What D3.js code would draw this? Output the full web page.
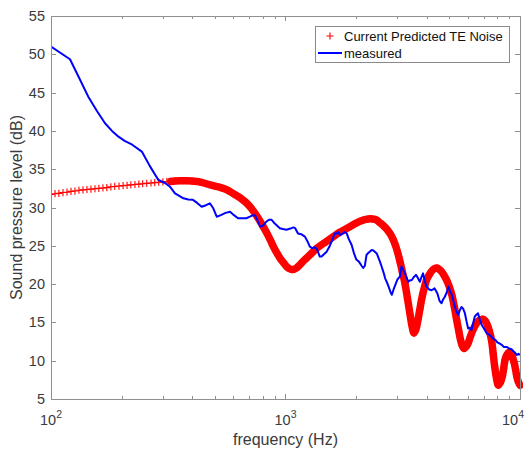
<!DOCTYPE html>
<html><head><meta charset="utf-8">
<script src="https://cdn.jsdelivr.net/npm/d3@7"></script>
<style>body{margin:0;background:#fff} svg{display:block}</style>
</head><body><svg id="c" width="529" height="450"></svg>
<script>
// ---- data ----
const predFreq = [100,104,108,112.5,117,121.7,126.5,131.6,136.9,142.3,148,154,160,166.5,173,180,187,195,203,211,219,228,237,246,256,267,277,288,300,312,324,337,351,365,380,
  400,430,460,500,530,563,600,639,670,706,735,765,800,831,860,888,917,947,980,1010,1040,1067,1100,1150,1200,1270,1350,1450,1550,1650,1760,1880,2010,2145,2250,2350,2450,2530,2600,2700,2790,2870,2940,3010,3080,3150,3230,3310,3390,3460,3530,3600,3670,3740,3800,3890,3990,4100,4200,4310,4420,4530,4640,4750,4870,4990,5120,5250,5370,5480,5580,5680,5770,5880,6010,6150,6300,6500,6720,6880,7000,7100,7200,7380,7560,7680,7800,7940,8070,8230,8400,8520,8630,8800,8950,9100,9280,9450,9580,9700,9850,10000];
const predDb = [31.7,31.8,31.85,31.95,32.0,32.1,32.15,32.25,32.3,32.35,32.4,32.45,32.5,32.55,32.6,32.7,32.75,32.8,32.85,32.9,32.95,33.0,33.05,33.1,33.15,33.2,33.25,33.3,33.35,33.4,33.4,33.45,33.5,33.5,33.5,
  33.45,33.35,33.1,32.8,32.6,32.3,31.8,31.3,30.8,30.1,29.4,28.6,27.6,26.7,25.8,24.9,24.1,23.4,22.8,22.3,22.0,21.9,22.0,22.5,23.1,23.8,24.6,25.3,25.9,26.5,27.0,27.5,28.0,28.35,28.5,28.5,28.35,28.0,27.7,27.2,26.6,25.9,25.1,24.1,22.9,21.6,20.1,18.2,16.2,14.6,13.6,14.1,15.3,16.7,17.9,19.3,20.5,21.2,21.7,22.0,22.1,21.9,21.6,21.1,20.5,19.7,18.6,17.0,15.3,13.9,12.7,11.9,11.6,11.8,12.3,13.2,14.0,14.8,15.3,15.4,15.4,15.2,14.9,14.0,12.7,11.0,9.2,7.7,6.8,7.1,7.9,9.0,10.1,10.8,11.1,11.0,10.5,9.7,8.8,7.9,7.2,6.8];
const measFreq = [100,120.5,130,144,157,170,182,194,206,222,244,264,287,306,322,338,367,385,403,420,439,458,476,492,509,530,555,580,603,627,655,681,705,727,741,760,780,800,825,850,873,900,946,975,1010,1050,1080,1100,1130,1170,1210,1240,1270,1300,1330,1360,1400,1425,1470,1495,1540,1580,1620,1650,1675,1710,1750,1790,1825,1860,1915,1960,2005,2060,2110,2145,2180,2215,2260,2330,2370,2450,2530,2570,2620,2660,2710,2750,2800,2840,2890,2940,3000,3080,3120,3170,3230,3290,3340,3400,3450,3520,3600,3670,3740,3800,3860,3920,3990,4100,4200,4320,4440,4540,4630,4700,4780,4870,4950,5030,5120,5200,5280,5360,5450,5540,5630,5720,5820,5910,6010,6110,6210,6300,6410,6510,6620,6740,6860,7020,7200,7380,7580,7730,7870,8000,8130,8330,8540,8760,8980,9200,9400,9550,9680,9850,10000];
const measDb = [51.0,49.35,47.3,44.5,42.6,41.0,40.0,39.25,38.7,38.2,37.3,35.4,33.6,33.2,32.7,31.85,31.2,31.05,31.0,30.6,30.1,30.3,30.55,29.9,28.8,29.0,29.3,29.45,29.0,28.6,28.6,28.6,28.8,29.0,29.0,28.3,27.5,27.6,28.1,28.4,28.4,27.9,27.3,27.2,27.1,27.25,27.4,27.3,26.6,26.5,26.2,25.6,24.9,24.7,24.8,24.6,23.6,23.6,24.0,24.2,24.9,25.7,26.6,26.6,26.8,26.4,26.6,26.8,26.6,25.9,25.1,24.0,23.2,22.9,22.4,22.1,22.4,23.8,24.1,24.45,24.4,24.0,22.9,22.3,21.5,20.75,20.2,19.7,19.0,18.6,19.3,19.9,20.6,21.0,22.3,21.9,21.4,20.8,20.3,20.5,20.5,20.9,21.2,20.8,20.3,20.9,21.4,20.5,19.7,19.3,19.2,19.45,18.8,17.8,17.5,18.0,18.35,18.9,19.7,19.1,18.6,17.8,17.0,16.4,15.95,16.6,17.0,16.8,16.2,15.2,14.2,14.3,14.0,14.8,15.75,16.0,16.2,15.4,14.7,14.2,13.6,13.4,13.1,12.8,12.7,12.4,12.3,12.1,11.8,11.8,11.6,11.5,11.2,11.0,10.75,10.9,10.75];
const yTicks = [5,10,15,20,25,30,35,40,45,50,55];
const xDomain = [100,10000];
const yDomain = [5,55];
const seriesNames = ["Current Predicted TE Noise","measured"];
const xLabel = "frequency (Hz)";
const yLabel = "Sound pressure level (dB)";

// ---- layout ----
const L=51, R=520, T=16, B=399;
const svg = d3.select("#c");
svg.append("rect").attr("width",529).attr("height",450).attr("fill","#fff");
const x = d3.scaleLog().domain(xDomain).range([L,R]);
const y = d3.scaleLinear().domain(yDomain).range([B,T]);
const axisCol="#8f8f8f", textCol="#3a3a3a", font="'Liberation Sans', Arial, sans-serif";

svg.append("clipPath").attr("id","clip").append("rect").attr("x",L).attr("y",T-2).attr("width",R-L+3).attr("height",B-T+4);

// ticks
const isMajor = v=>Math.abs(Math.log10(v)-Math.round(Math.log10(v)))<1e-9;
const tg = svg.append("g").attr("stroke",axisCol).attr("stroke-width",1);
x.ticks().forEach(v=>{
  const len = isMajor(v)?5:3, xx=Math.round(x(v))+0.5;
  tg.append("line").attr("x1",xx).attr("x2",xx).attr("y1",B).attr("y2",B-len);
  tg.append("line").attr("x1",xx).attr("x2",xx).attr("y1",T).attr("y2",T+len);
});
yTicks.forEach(v=>{
  const yy=Math.round(y(v))+0.5;
  tg.append("line").attr("x1",L).attr("x2",L+5).attr("y1",yy).attr("y2",yy);
  tg.append("line").attr("x1",R).attr("x2",R-5).attr("y1",yy).attr("y2",yy);
});

// series
const pred = predFreq.map((f,i)=>({f,v:predDb[i]}));
const meas = measFreq.map((f,i)=>({f,v:measDb[i]}));
const sg = svg.append("g").attr("clip-path","url(#clip)");
const band = pred.filter(d=>d.f>=320);
sg.append("path").datum(band)
  .attr("d",d3.line().x(d=>x(d.f)).y(d=>y(d.v)).curve(d3.curveCatmullRom))
  .attr("fill","none").attr("stroke","#ff0000").attr("stroke-width",7.5).attr("stroke-linejoin","round").attr("stroke-linecap","round");
const plus = s=>`M${-s},0H${s}M0,${-s}V${s}`;
sg.selectAll("path.m").data(pred).enter().append("path").attr("class","m")
  .attr("transform",d=>`translate(${x(d.f)},${y(d.v)})`)
  .attr("d",plus(3.6)).attr("stroke","#ff0000").attr("stroke-width",1.1).attr("fill","none");
sg.append("path").datum(meas)
  .attr("d",d3.line().x(d=>x(d.f)).y(d=>y(d.v)))
  .attr("fill","none").attr("stroke","#0000ff").attr("stroke-width",2).attr("stroke-linejoin","round");

// box
svg.append("rect").attr("x",L+0.5).attr("y",T+0.5).attr("width",R-L).attr("height",B-T)
  .attr("fill","none").attr("stroke",axisCol).attr("stroke-width",1);

// tick labels
yTicks.forEach(v=>{
  svg.append("text").attr("x",45).attr("y",y(v)+5).attr("text-anchor","end")
    .attr("font-family",font).attr("font-size",14.5).attr("fill",textCol).text(v);
});
x.ticks().filter(isMajor).forEach(v=>{
  const t = svg.append("text").attr("x",x(v)).attr("y",424.5).attr("text-anchor","middle")
    .attr("font-family",font).attr("font-size",14.5).attr("fill",textCol);
  t.append("tspan").text("10");
  t.append("tspan").attr("dy",-7).attr("font-size",10.5).text(String(Math.round(Math.log10(v))));
  const bb = t.node().getBBox();
  if (bb.x + bb.width > 524) t.attr("text-anchor","end").attr("x",524);
});
// axis labels
svg.append("text").attr("x",(L+R)/2).attr("y",445).attr("text-anchor","middle")
  .attr("font-family",font).attr("font-size",16).attr("fill",textCol).text(xLabel);
svg.append("text").attr("transform",`translate(22,${(T+B)/2}) rotate(-90)`).attr("text-anchor","middle")
  .attr("font-family",font).attr("font-size",16).attr("fill",textCol).text(yLabel);

// legend
const lg = svg.append("g");
lg.append("rect").attr("x",315.5).attr("y",26.5).attr("width",194).attr("height",36)
  .attr("fill","#fff").attr("stroke","#8a8a8a").attr("stroke-width",1);
lg.append("path").attr("transform","translate(330,36)").attr("d",plus(3.6)).attr("stroke","#ff0000").attr("stroke-width",1.1);
lg.append("line").attr("x1",318).attr("x2",342).attr("y1",53).attr("y2",53).attr("stroke","#0000ff").attr("stroke-width",2);
lg.append("text").attr("x",344).attr("y",41).attr("font-family",font).attr("font-size",13).attr("fill","#111").text(seriesNames[0]);
lg.append("text").attr("x",344).attr("y",58).attr("font-family",font).attr("font-size",13).attr("fill","#111").text(seriesNames[1]);
</script></body></html>
